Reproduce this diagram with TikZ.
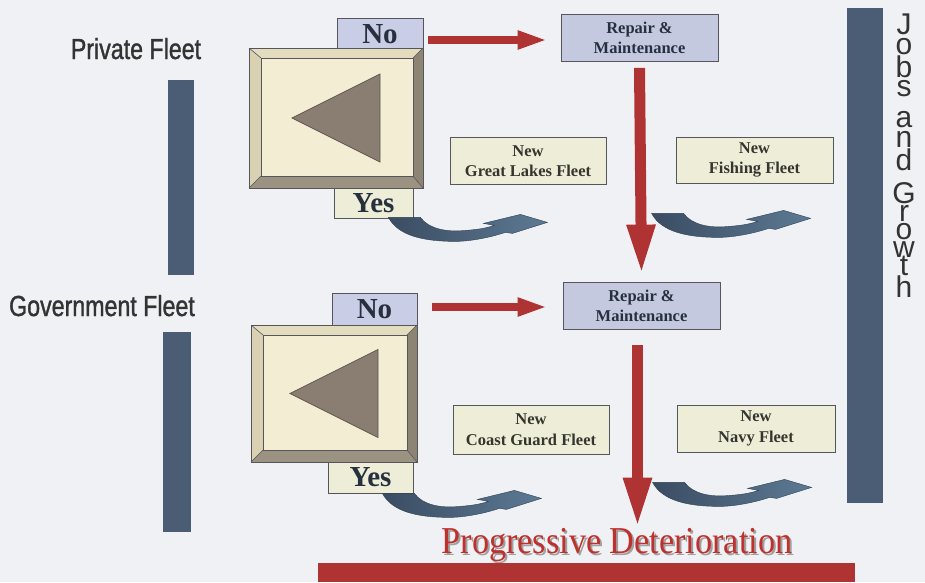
\documentclass[tikz,border=0pt]{standalone}
\usepackage{fontspec}
\setmainfont{Liberation Serif}
\newfontfamily\arialnarrow[FakeStretch=0.8,FakeBold=1.2]{Liberation Sans}
\newfontfamily\arialfont{Liberation Sans}
\newfontfamily\timesnarrow[FakeStretch=0.9]{Liberation Serif}
\usetikzlibrary{arrows.meta,calc}
\definecolor{bgcol}{HTML}{F0F1F4}
\definecolor{slate}{HTML}{4A5D74}
\definecolor{lav}{HTML}{CACDE6}
\definecolor{repcol}{HTML}{C4C9E0}
\definecolor{creamcol}{HTML}{EEEED8}
\definecolor{facecol}{HTML}{F3EDD3}
\definecolor{bevlight}{HTML}{E4DCBE}
\definecolor{bevleft}{HTML}{DAD1B2}
\definecolor{bevdark}{HTML}{8E8474}
\definecolor{bevbot}{HTML}{9C9282}
\definecolor{tricol}{HTML}{8A7D71}
\definecolor{redcol}{HTML}{B03333}
\definecolor{blueA}{HTML}{3A4C62}
\definecolor{blueB}{HTML}{5D7A94}
\definecolor{txtdark}{HTML}{26303F}
\definecolor{txtnew}{HTML}{35352F}
\definecolor{lblcol}{HTML}{333333}
\definecolor{boxline}{HTML}{55565C}
\definecolor{pdred}{HTML}{C0302C}
\definecolor{pdshadow}{HTML}{A0A0A0}
\begin{document}
\begin{tikzpicture}[x=1pt,y=-1pt,
  box/.style={draw=boxline, line width=0.8pt, inner sep=0pt, align=center},
  nobox/.style={box, fill=lav, text=txtdark, font=\bfseries\fontsize{29}{29}\selectfont},
  yesbox/.style={box, fill=creamcol, text=txtdark, font=\bfseries\fontsize{29}{29}\selectfont},
  repbox/.style={box, fill=repcol, text=txtdark, minimum width=157pt, minimum height=47pt, font=\bfseries\fontsize{16.5}{20}\selectfont},
  newbox/.style={box, fill=creamcol, text=txtnew, minimum width=156pt, minimum height=47pt, font=\bfseries\fontsize{16.5}{20.5}\selectfont},
  holder/.style={inner sep=0pt, outer sep=0pt},
  redh/.style={draw=redcol, line width=8pt, -{Triangle[width=17pt,length=30pt]}},
  redv/.style={draw=redcol, line width=11pt, -{Triangle[width=26pt,length=50pt]}},
  lbl/.style={text=lblcol, font=\arialnarrow\fontsize{29}{29}\selectfont},
  jg/.style={text=lblcol, font=\arialfont\fontsize{30}{30}\selectfont, inner sep=0pt},
  swoosh/.pic={
    \shade[left color=blueA, right color=blueB, draw=blueA!85!black, line width=0.4pt]
      (0,0) -- (32,0) .. controls (40,11) and (57,15) .. (77,13)
      .. controls (92,12) and (100,10) .. (106,8) -- (95,6) -- (132,-3) -- (159,5)
      -- (124,16) -- (117,15) .. controls (102,20) and (82,24) .. (67,24)
      .. controls (37,24) and (10,19) .. (0,0) -- cycle;
  }
]
\useasboundingbox (0,0) rectangle (925,582);
\fill[bgcol] (0,0) rectangle (925,582);

% side bars
\fill[slate] (168,80) rectangle (194,275);
\fill[slate] (163,332) rectangle (191,532);
\fill[slate] (847,8) rectangle (883,503);

% left labels
\node[lbl, anchor=base] (pf) at (136,59) {Private Fleet};
\node[lbl, anchor=base] (gf) at (102,316) {Government Fleet};

% Jobs and Growth
\foreach \l/\yy [count=\i] in {J/34,o/54,b/77,s/96,a/127,n/147,d/170,G/203,r/221,o/239,w/257,t/275,h/297}
  \node[jg, anchor=base] (jobs\i) at (904,\yy) {\l};

% ---------- top block ----------
\node[nobox, minimum width=86pt, minimum height=32pt] (no1) at (380,34) {No};
\node[holder, minimum width=174pt, minimum height=140pt] (big1) at (336,118) {};
\node[yesbox, minimum width=79pt, minimum height=30pt] (yes1) at (373.5,203) {Yes};

% ---------- bottom block ----------
\node[nobox, minimum width=85pt, minimum height=32pt] (no2) at (374.5,309) {No};
\node[holder, minimum width=166pt, minimum height=137pt] (big2) at (334,393.5) {};
\node[yesbox, minimum width=85pt, minimum height=31pt] (yes2) at (370.5,477.5) {Yes};

% bevel boxes
\foreach \b in {big1,big2}{
  \coordinate (o1) at (\b.north west);
  \coordinate (o2) at (\b.north east);
  \coordinate (o3) at (\b.south east);
  \coordinate (o4) at (\b.south west);
  \coordinate (i1) at ($(o1)+(12,10)$);
  \coordinate (i2) at ($(o2)+(-10,10)$);
  \coordinate (i3) at ($(o3)+(-10,-12)$);
  \coordinate (i4) at ($(o4)+(12,-12)$);
  \fill[bevlight] (o1) -- (o2) -- (i2) -- (i1) -- cycle;
  \fill[bevleft] (o1) -- (i1) -- (i4) -- (o4) -- cycle;
  \fill[bevdark] (o2) -- (o3) -- (i3) -- (i2) -- cycle;
  \fill[bevbot] (o4) -- (i4) -- (i3) -- (o3) -- cycle;
  \draw[boxline, line width=0.6pt] (o1) -- (i1) (o2) -- (i2) (o3) -- (i3) (o4) -- (i4);
  \filldraw[fill=facecol, draw=boxline, line width=0.6pt] (i1) rectangle (i3);
  \draw[boxline, line width=0.8pt] (o1) rectangle (o3);
  \filldraw[fill=tricol, draw=tricol!70!black, line width=0.7pt]
    ($(\b.center)+(-44,0)$) -- ($(\b.center)+(44,-44)$) -- ($(\b.center)+(44,44)$) -- cycle;
}

% repair boxes and new boxes
\node[repbox] (rep1) at (639.5,38) {Repair \&\\Maintenance};
\node[repbox] (rep2) at (641.5,305.5) {Repair \&\\Maintenance};
\node[newbox] (gl) at (528,161) {New\\Great Lakes Fleet};
\node[newbox, minimum width=157pt, minimum height=46pt] (fish) at (754.5,160) {New\\Fishing Fleet};
\node[newbox, minimum height=49pt] (cg) at (531,429.5) {New\\Coast Guard Fleet};
\node[newbox, minimum width=158pt] (navy) at (756,428.5) {New\\Navy Fleet};

% Progressive Deterioration (with drop shadow in one node)
\node[anchor=base, font=\timesnarrow\fontsize{38}{38}\selectfont, inner sep=0pt] (pd) at (617,553)
  {\rlap{\hspace{2pt}\raisebox{-2pt}[0pt][0pt]{\color{pdshadow}Progressive Deterioration}}\color{pdred}Progressive Deterioration};
\fill[redcol] (318,563) rectangle (855,582);

% red arrows
\draw[redh] ([xshift=5pt,yshift=-6pt]no1.east) -- ([xshift=-13pt,yshift=-6pt]no1.east -| rep1.west);
\draw[redh] ([xshift=15pt,yshift=2pt]no2.east) -- ([xshift=-15pt,yshift=2pt]no2.east -| rep2.west);
\draw[redv] ([yshift=-6pt]rep1.south) -- ([yshift=7pt]rep2.north);
\draw[redv] ([xshift=-4pt,yshift=-16pt]rep2.south) -- ([xshift=-4pt]rep2.south |- pd.north);

% blue curved arrows
\coordinate (s1) at ([xshift=-25pt,yshift=1pt]yes1.south east);
\coordinate (s2) at ([xshift=-24pt,yshift=-30pt]fish.south west);
\coordinate (s3) at ([xshift=-31pt]yes2.south east);
\coordinate (s4) at ([xshift=-24pt,yshift=-30pt]navy.south west);
\pic at (s1) {swoosh};
\pic at (s2) {swoosh};
\pic at (s3) {swoosh};
\pic at (s4) {swoosh};
\end{tikzpicture}
\end{document}
